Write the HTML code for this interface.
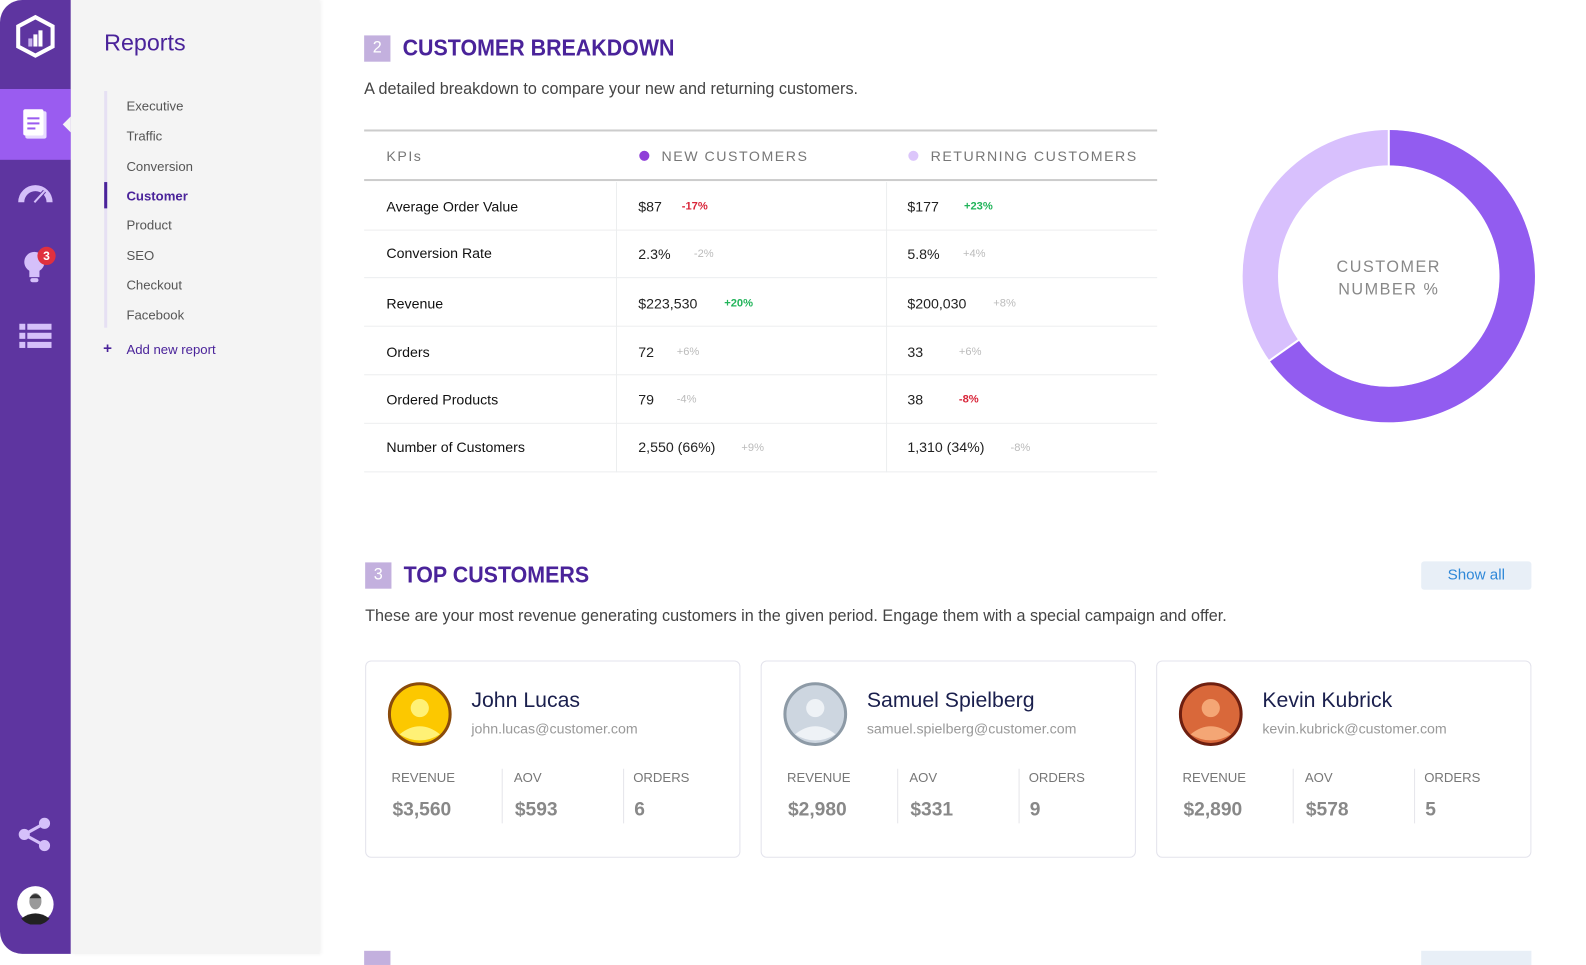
<!DOCTYPE html>
<html><head><meta charset="utf-8"><style>
*{margin:0;padding:0;box-sizing:border-box}
html,body{width:1586px;height:954px;overflow:hidden;background:#fff}
#w{position:absolute;left:0;top:0;width:1568px;height:943px;transform:scale(1.0115);transform-origin:0 0;font-family:"Liberation Sans",sans-serif}
.a{position:absolute;white-space:nowrap}
.side{left:0;top:0;width:70px;height:943px;background:#5e35a0;border-radius:22px 0 0 22px}
.sub{left:70px;top:0;width:246px;height:943px;background:#f4f4f4;box-shadow:2px 0 4px rgba(0,0,0,.06)}
.nav{font-size:13px;color:#555;left:125px}
.bar{left:103px;width:3px;background:#e6e0f3}
.hdr{font-size:23px;color:#4a239a;font-weight:bold;transform:scaleX(.92);transform-origin:left}
.num{width:26px;height:26px;background:#c3b0de;color:#fff;font-size:16px;text-align:center;line-height:26px}
.th{font-size:14px;color:#777;letter-spacing:1.5px;top:146px}
.row{font-size:14px;color:#111}
.v{font-size:14px;color:#222}
.p{font-size:11px}
.r{color:#d9263a;font-weight:bold}.g{color:#22b45a;font-weight:bold}.n{color:#bbb}
.hl{left:360px;width:784px;height:1px;background:#eceeef}
.vl{width:1px;background:#eceeef;top:180px;height:287px}
.card{top:653px;width:371px;height:195px;border:1px solid #e3e3ec;border-radius:6px;background:#fff}
.nm{font-size:21px;color:#1a1f4d}
.em{font-size:14px;color:#999}
.lb{font-size:13px;color:#777}
.val{font-size:19px;color:#888;font-weight:bold}
.sep{width:1px;height:54px;background:#e5e5ea}
</style></head><body><div id="w">
<div class="a side"></div>
<div class="a" style="left:0;top:88px;width:70px;height:70px;background:#9a5cf0"></div>
<div class="a" style="left:62px;top:115px;width:0;height:0;border-top:8px solid transparent;border-bottom:8px solid transparent;border-right:8px solid #f4f4f4;z-index:3"></div>
<svg class="a" style="left:14px;top:14px" width="42" height="44" viewBox="0 0 42 44"><polygon points="21,3 38,12 38,32 21,41 4,32 4,12" fill="none" stroke="#fff" stroke-width="4"/><rect x="14" y="24" width="4" height="8" fill="#c9b3ef"/><rect x="19" y="20" width="4" height="12" fill="#fff"/><rect x="24" y="16" width="4" height="16" fill="#fff"/></svg>
<svg class="a" style="left:22px;top:107px" width="26" height="32"><rect x="3" y="3" width="21" height="27" rx="2" fill="#e8dcff"/><rect x="1" y="1" width="20" height="26" rx="2" fill="#fff"/><rect x="5" y="9" width="12" height="2" fill="#9a5cf0"/><rect x="5" y="14" width="12" height="2" fill="#9a5cf0"/><rect x="5" y="19" width="8" height="2" fill="#9a5cf0"/></svg>
<svg class="a" style="left:17px;top:180px" width="36" height="24"><path d="M4 20 A14 14 0 0 1 32 20" fill="none" stroke="#d5c0fa" stroke-width="6"/><line x1="17" y1="20" x2="27" y2="9" stroke="#5e35a0" stroke-width="4"/><line x1="17" y1="20" x2="27" y2="9" stroke="#d5c0fa" stroke-width="2"/></svg>
<svg class="a" style="left:22px;top:246px" width="26" height="36"><circle cx="12" cy="13" r="10" fill="#d5c0fa"/><rect x="7" y="20" width="10" height="8" fill="#d5c0fa"/><rect x="8" y="29" width="8" height="4" rx="2" fill="#d5c0fa"/></svg>
<div class="a" style="left:37px;top:244px;width:18px;height:18px;border-radius:50%;background:#e0303e;color:#fff;font-size:12px;font-weight:bold;text-align:center;line-height:18px">3</div>
<svg class="a" style="left:19px;top:320px" width="32" height="24"><g fill="#d5c0fa"><rect x="0" y="0" width="6" height="6"/><rect x="8" y="0" width="24" height="6"/><rect x="0" y="9" width="6" height="6"/><rect x="8" y="9" width="24" height="6"/><rect x="0" y="18" width="6" height="6"/><rect x="8" y="18" width="24" height="6"/></g></svg>
<svg class="a" style="left:18px;top:808px" width="34" height="34"><g fill="#d5c0fa" stroke="#d5c0fa" stroke-width="3"><circle cx="26" cy="6" r="4"/><circle cx="6" cy="17" r="4"/><circle cx="26" cy="28" r="4"/><line x1="26" y1="6" x2="6" y2="17"/><line x1="6" y1="17" x2="26" y2="28"/></g></svg>
<svg class="a" style="left:15px;top:874px" width="40" height="40"><circle cx="20" cy="20" r="18" fill="#fff"/><path d="M6 34 Q20 24 34 34 A18 18 0 0 1 6 34Z" fill="#222"/><ellipse cx="20" cy="17" rx="6" ry="8" fill="#999"/><path d="M14 14 Q20 6 26 14" fill="#333"/></svg>

<div class="a sub"></div>
<div class="a" style="left:103px;top:29px;font-size:23px;color:#4a239a">Reports</div>
<div class="a bar" style="top:90px;height:234px"></div>
<div class="a" style="left:103px;top:180px;width:3px;height:26px;background:#4a239a"></div>
<div class="a nav" style="top:97px">Executive</div>
<div class="a nav" style="top:127px">Traffic</div>
<div class="a nav" style="top:157px">Conversion</div>
<div class="a nav" style="top:186px;color:#4a239a;font-weight:bold">Customer</div>
<div class="a nav" style="top:215px">Product</div>
<div class="a nav" style="top:245px">SEO</div>
<div class="a nav" style="top:274px">Checkout</div>
<div class="a nav" style="top:304px">Facebook</div>
<div class="a" style="left:102px;top:336px;font-size:15px;color:#4a239a;font-weight:bold">+</div>
<div class="a nav" style="top:338px;color:#4a239a">Add new report</div>

<div class="a num" style="left:360px;top:35px">2</div>
<div class="a hdr" style="left:398px;top:34px">CUSTOMER BREAKDOWN</div>
<div class="a" style="left:360px;top:80px;font-size:16px;color:#444">A detailed breakdown to compare your new and returning customers.</div>
<div class="a" style="left:360px;top:128px;width:784px;height:2px;background:#ccc"></div>
<div class="a" style="left:360px;top:177px;width:784px;height:2px;background:#ccc"></div>
<div class="a th" style="left:382px">KPIs</div>
<div class="a" style="left:632px;top:149px;width:10px;height:10px;border-radius:50%;background:#8f3fd8"></div>
<div class="a th" style="left:654px">NEW CUSTOMERS</div>
<div class="a" style="left:898px;top:149px;width:10px;height:10px;border-radius:50%;background:#dcc6fb"></div>
<div class="a th" style="left:920px">RETURNING CUSTOMERS</div>
<div class="a vl" style="left:609px"></div><div class="a vl" style="left:876px"></div>
<div class="a hl" style="top:227px"></div><div class="a hl" style="top:274px"></div><div class="a hl" style="top:322px"></div><div class="a hl" style="top:370px"></div><div class="a hl" style="top:418px"></div><div class="a hl" style="top:466px"></div>

<div class="a row" style="left:382px;top:196px">Average Order Value</div>
<div class="a v" style="left:631px;top:196px">$87</div><div class="a p r" style="left:674px;top:198px">-17%</div>
<div class="a v" style="left:897px;top:196px">$177</div><div class="a p g" style="left:953px;top:198px">+23%</div>
<div class="a row" style="left:382px;top:242px">Conversion Rate</div>
<div class="a v" style="left:631px;top:243px">2.3%</div><div class="a p n" style="left:686px;top:245px">-2%</div>
<div class="a v" style="left:897px;top:243px">5.8%</div><div class="a p n" style="left:952px;top:245px">+4%</div>
<div class="a row" style="left:382px;top:292px">Revenue</div>
<div class="a v" style="left:631px;top:292px">$223,530</div><div class="a p g" style="left:716px;top:294px">+20%</div>
<div class="a v" style="left:897px;top:292px">$200,030</div><div class="a p n" style="left:982px;top:294px">+8%</div>
<div class="a row" style="left:382px;top:340px">Orders</div>
<div class="a v" style="left:631px;top:340px">72</div><div class="a p n" style="left:669px;top:342px">+6%</div>
<div class="a v" style="left:897px;top:340px">33</div><div class="a p n" style="left:948px;top:342px">+6%</div>
<div class="a row" style="left:382px;top:387px">Ordered Products</div>
<div class="a v" style="left:631px;top:387px">79</div><div class="a p n" style="left:669px;top:389px">-4%</div>
<div class="a v" style="left:897px;top:387px">38</div><div class="a p r" style="left:948px;top:389px">-8%</div>
<div class="a row" style="left:382px;top:434px">Number of Customers</div>
<div class="a v" style="left:631px;top:434px">2,550 (66%)</div><div class="a p n" style="left:733px;top:437px">+9%</div>
<div class="a v" style="left:897px;top:434px">1,310 (34%)</div><div class="a p n" style="left:999px;top:437px">-8%</div>

<svg class="a" style="left:1228px;top:128px" width="290" height="290" viewBox="0 0 290 290">
<circle cx="145" cy="145" r="127" fill="none" stroke="#d8c0fd" stroke-width="35"/>
<circle cx="145" cy="145" r="127" fill="none" stroke="#925cf0" stroke-width="35" stroke-dasharray="520 278" transform="rotate(-90 145 145)"/>
<line x1="145" y1="0" x2="145" y2="36" stroke="#fff" stroke-width="2"/>
<line x1="56" y1="208" x2="25" y2="230" stroke="#fff" stroke-width="2"/>
</svg>
<div class="a" style="left:1273px;top:254px;width:200px;text-align:center;font-size:16px;color:#888;letter-spacing:1.5px;line-height:22px;white-space:normal">CUSTOMER<br>NUMBER %</div>

<div class="a num" style="left:361px;top:556px">3</div>
<div class="a hdr" style="left:399px;top:555px">TOP CUSTOMERS</div>
<div class="a" style="left:1405px;top:555px;width:109px;height:28px;background:#e8eff7;border-radius:3px;color:#2f88d8;font-size:15px;text-align:center;line-height:28px">Show all</div>
<div class="a" style="left:361px;top:601px;font-size:16px;color:#444">These are your most revenue generating customers in the given period. Engage them with a special campaign and offer.</div>

<div class="a card" style="left:361px"></div>
<div class="a card" style="left:752px"></div>
<div class="a card" style="left:1143px"></div>

<svg class="a" style="left:383px;top:674px" width="64" height="64"><circle cx="32" cy="32" r="30" fill="#fcc800" stroke="#8a4b0b" stroke-width="3"/><circle cx="32" cy="26" r="9" fill="#fff176"/><path d="M12 52 Q32 36 52 52 Q32 64 12 52Z" fill="#fff176"/></svg>
<svg class="a" style="left:774px;top:674px" width="64" height="64"><circle cx="32" cy="32" r="30" fill="#cdd6e0" stroke="#8d9aa6" stroke-width="3"/><circle cx="32" cy="26" r="9" fill="#eef2f6"/><path d="M12 52 Q32 36 52 52 Q32 64 12 52Z" fill="#eef2f6"/></svg>
<svg class="a" style="left:1165px;top:674px" width="64" height="64"><circle cx="32" cy="32" r="30" fill="#d9683a" stroke="#6e1f10" stroke-width="3"/><circle cx="32" cy="26" r="9" fill="#f4a675"/><path d="M12 52 Q32 36 52 52 Q32 64 12 52Z" fill="#f4a675"/></svg>

<div class="a nm" style="left:466px;top:681px">John Lucas</div>
<div class="a em" style="left:466px;top:712px">john.lucas@customer.com</div>
<div class="a nm" style="left:857px;top:681px">Samuel Spielberg</div>
<div class="a em" style="left:857px;top:712px">samuel.spielberg@customer.com</div>
<div class="a nm" style="left:1248px;top:681px">Kevin Kubrick</div>
<div class="a em" style="left:1248px;top:712px">kevin.kubrick@customer.com</div>

<div class="a lb" style="left:387px;top:761px">REVENUE</div><div class="a lb" style="left:508px;top:761px">AOV</div><div class="a lb" style="left:626px;top:761px">ORDERS</div>
<div class="a val" style="left:388px;top:790px">$3,560</div><div class="a val" style="left:509px;top:790px">$593</div><div class="a val" style="left:627px;top:790px">6</div>
<div class="a sep" style="left:496px;top:760px"></div><div class="a sep" style="left:616px;top:760px"></div>

<div class="a lb" style="left:778px;top:761px">REVENUE</div><div class="a lb" style="left:899px;top:761px">AOV</div><div class="a lb" style="left:1017px;top:761px">ORDERS</div>
<div class="a val" style="left:779px;top:790px">$2,980</div><div class="a val" style="left:900px;top:790px">$331</div><div class="a val" style="left:1018px;top:790px">9</div>
<div class="a sep" style="left:887px;top:760px"></div><div class="a sep" style="left:1007px;top:760px"></div>

<div class="a lb" style="left:1169px;top:761px">REVENUE</div><div class="a lb" style="left:1290px;top:761px">AOV</div><div class="a lb" style="left:1408px;top:761px">ORDERS</div>
<div class="a val" style="left:1170px;top:790px">$2,890</div><div class="a val" style="left:1291px;top:790px">$578</div><div class="a val" style="left:1409px;top:790px">5</div>
<div class="a sep" style="left:1278px;top:760px"></div><div class="a sep" style="left:1398px;top:760px"></div>

<div class="a" style="left:360px;top:940px;width:26px;height:14px;background:#c3b0de"></div>
<div class="a" style="left:1405px;top:940px;width:109px;height:14px;background:#e8eff7"></div>
</div></body></html>
